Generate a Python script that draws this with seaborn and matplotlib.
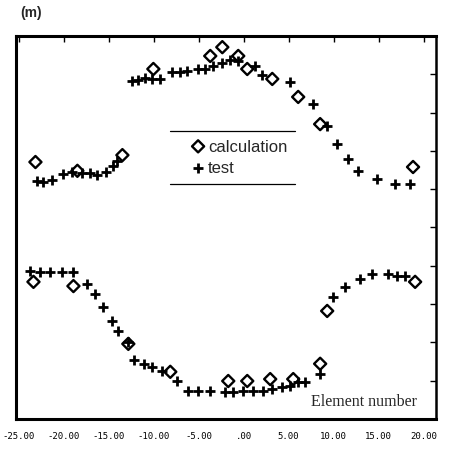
import matplotlib
matplotlib.use('Agg')
import matplotlib.pyplot as plt
import pandas as pd
import seaborn as sns

# Values: x in the units of the bottom tick labels,
# y in grid steps (the y tick labels are cut off in the original)
calc_x = [-23.12, -18.46, -13.46, -10.02, -3.70, -2.36, -0.59, 0.41, 3.19, 6.07, 8.51, 18.83,
          -23.34, -18.90, -12.80, -8.14, -1.70, 0.41, 2.96, 5.52, 8.51, 9.29, 19.06]
calc_y = [6.71, 6.48, 6.89, 9.14, 9.48, 9.71, 9.48, 9.14, 8.88, 8.41, 7.70, 6.58,
          3.58, 3.47, 1.96, 1.23, 0.99, 0.99, 1.04, 1.04, 1.44, 2.82, 3.58]

test_x = [-22.90, -22.23, -21.23, -20.01, -19.01, -17.90, -17.01, -16.24, -15.24, -14.46, -14.02,
          -12.35, -11.69, -10.91, -10.13, -9.25, -7.91, -7.03, -6.25, -5.03, -4.25, -3.36, -2.36,
          -1.48, -0.59, 1.30, 2.08, 5.18, 7.74, 9.29, 10.40, 11.62, 12.73, 14.84, 16.84, 18.50,
          -23.67, -22.56, -21.45, -20.12, -18.90, -17.35, -16.46, -15.57, -14.57, -13.91, -12.80,
          -12.13, -11.02, -10.13, -9.02, -7.36, -6.14, -5.03, -3.70, -2.03, -1.14, -0.03, 1.08,
          2.19, 3.19, 4.30, 5.18, 6.07, 6.85, 8.51, 9.96, 11.29, 12.95, 14.28, 16.06, 17.06, 17.95]
test_y = [6.21, 6.19, 6.24, 6.40, 6.45, 6.42, 6.42, 6.37, 6.45, 6.61, 6.74,
          8.83, 8.85, 8.90, 8.88, 8.88, 9.06, 9.06, 9.09, 9.14, 9.14, 9.22, 9.30,
          9.37, 9.35, 9.22, 8.98, 8.80, 8.22, 7.65, 7.18, 6.79, 6.48, 6.27, 6.14, 6.14,
          3.86, 3.84, 3.84, 3.84, 3.84, 3.52, 3.26, 2.92, 2.56, 2.30, 2.01,
          1.54, 1.44, 1.36, 1.25, 0.99, 0.73, 0.73, 0.73, 0.70, 0.70, 0.73, 0.73,
          0.73, 0.78, 0.84, 0.86, 0.97, 0.97, 1.17, 3.19, 3.45, 3.66, 3.79, 3.79, 3.73, 3.73]

x_ticks = [-25, -20, -15, -10, -5, 0, 5, 10, 15, 20, 25]
x_tick_labels = ['-25.00', '-20.00', '-15.00', '-10.00', '-5.00', '.00',
                 '5.00', '10.00', '15.00', '20.00', '25.00']
y_ticks = list(range(11))

sns.set_theme(style='white')
plt.rcParams['font.family'] = ['Liberation Sans', 'DejaVu Sans']

df_calc = pd.DataFrame({'element': calc_x, 'value': calc_y})
df_test = pd.DataFrame({'element': test_x, 'value': test_y})

fig = plt.figure(figsize=(4.52, 4.52), dpi=100)
ax = fig.add_axes([0.035, 0.071, 0.93, 0.847])

sns.scatterplot(data=df_calc, x='element', y='value', marker='D', s=38,
                facecolors='none', edgecolor='black', linewidth=1.7,
                label='calculation', ax=ax)
sns.scatterplot(data=df_test, x='element', y='value', marker='+', s=45,
                color='black', linewidth=2.0, label='test', ax=ax)

ax.set_xticks(x_ticks)
ax.set_xticklabels(x_tick_labels)
ax.set_yticks(y_ticks)
ax.set_yticklabels([])
# limits after the ticks, otherwise set_xticks widens the view
ax.set_xlim(-25.3, 21.4)
ax.set_ylim(0, 10)
ax.set_xlabel('')
ax.set_ylabel('')
ax.tick_params(direction='in', length=4, width=1, top=True, right=True,
               labelsize=6.5, pad=9, colors='black')
for lbl in ax.get_xticklabels():
    lbl.set_family('DejaVu Sans Mono')

for side in ['left', 'bottom', 'top']:
    ax.spines[side].set_linewidth(2.2)
    ax.spines[side].set_color('black')
ax.spines['right'].set_linewidth(1.8)
ax.spines['right'].set_color('black')

# legend with only a rule above and below
ax.legend(loc='center', bbox_to_anchor=(0.53, 0.684), frameon=False, fontsize=12,
          handletextpad=0.1, labelspacing=0.4, handlelength=1.0, borderpad=0)
ax.plot([0.367, 0.664], [0.752, 0.752], transform=ax.transAxes, color='black', lw=0.9)
ax.plot([0.367, 0.664], [0.614, 0.614], transform=ax.transAxes, color='black', lw=0.9)

ax.text(0.955, 0.047, 'Element number', transform=ax.transAxes, ha='right', va='center',
        fontsize=11.5, family='Liberation Serif')
fig.text(0.045, 0.972, '(m)', fontsize=10, fontweight='bold', va='center')

fig.savefig('out.png', dpi=100)
